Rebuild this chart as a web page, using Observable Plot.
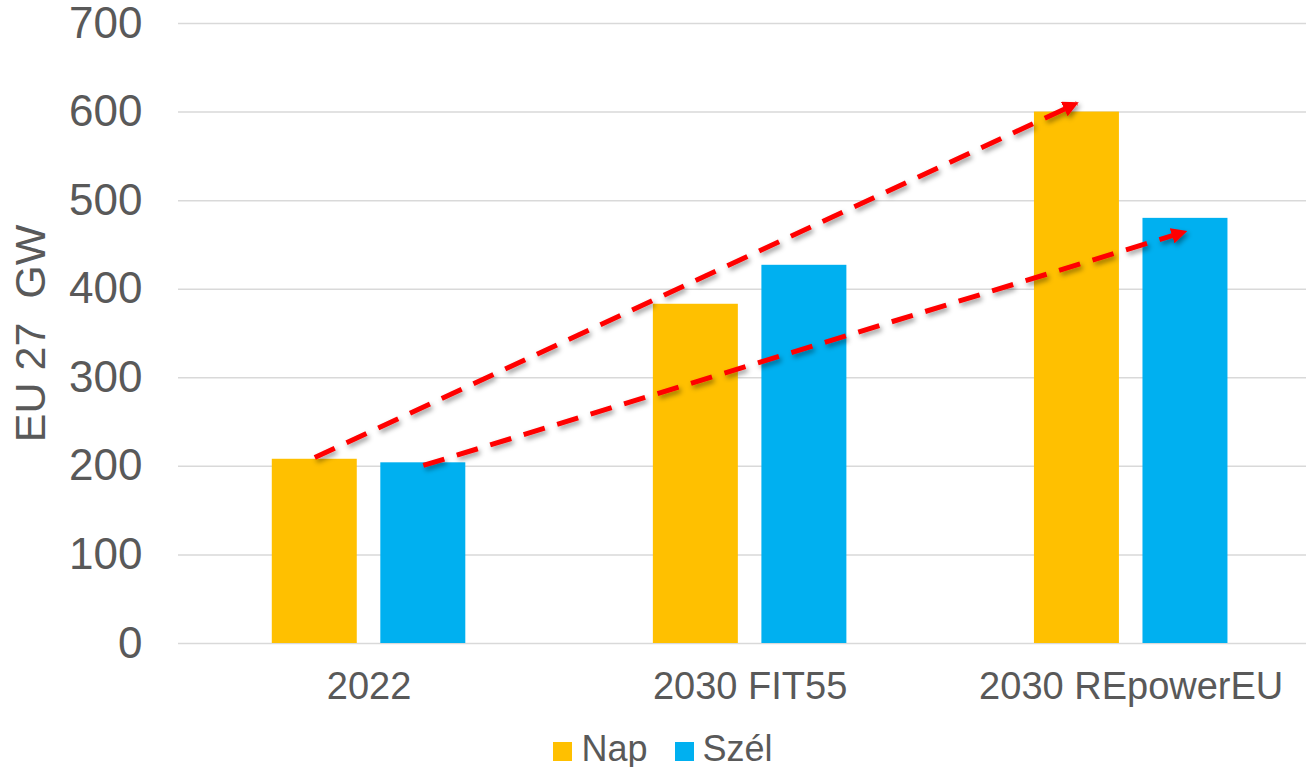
<!DOCTYPE html>
<html>
<head>
<meta charset="utf-8">
<script src="https://cdn.jsdelivr.net/npm/d3@7"></script>
<script src="https://cdn.jsdelivr.net/npm/@observablehq/plot@0.6"></script>
<style>
  html, body { margin: 0; padding: 0; background: #fff; overflow: hidden; }
  body { font-family: "Liberation Sans", Arial, sans-serif; }
  #chart svg { display: block; }
  svg text { white-space: pre; }
  #legend { display: flex; justify-content: center; align-items: center; height: 36px; margin-top: 13px;
            padding-left: 20px; font-size: 36px; line-height: 36px; color: #595959; }
  #legend .item { display: flex; align-items: center; }
  #legend .item + .item { margin-left: 27px; }
  #legend .sw { width: 19px; height: 19px; display: inline-block; margin-right: 9px; position: relative; top: 2px; }
</style>
</head>
<body>
<div id="chart"></div>
<div id="legend"></div>
<script>
// ---- data ----
const categories = ["2022", "2030 FIT55", "2030 REpowerEU"];
const seriesNames = ["Nap", "Szél"];
const napValues = [208, 383, 600];
const szelValues = [204, 427, 480];
const seriesColors = ["#FFC000", "#00B0F0"];
const yTicks = [0, 100, 200, 300, 400, 500, 600, 700];
const yLabel = "EU 27  GW";
// arrows: from a bar of the first category to the same series in the last
const arrowSeries = ["Nap", "Szél"];
const arrowFrom = ["2022", "2022"];
const arrowTo = ["2030 REpowerEU", "2030 REpowerEU"];
const arrowStartValues = [210, 201];
const arrowEndValues = [610, 465];

// ---- layout helpers (in x-scale units: one unit per category group) ----
const seriesOffset = {"Nap": -0.1424, "Szél": 0.1424};
const halfBar = 0.1115;
const textColor = "#595959";

const rows = [];
categories.forEach((c, i) => {
  rows.push({cat: c, series: "Nap", value: napValues[i], idx: i});
  rows.push({cat: c, series: "Szél", value: szelValues[i], idx: i});
});
const arrows = arrowSeries.map((s, k) => ({
  x1: categories.indexOf(arrowFrom[k]) + seriesOffset[s],
  y1: arrowStartValues[k],
  x2: categories.indexOf(arrowTo[k]) + seriesOffset[s],
  y2: arrowEndValues[k]
}));

const hasAxisMarks = typeof Plot.axisY === "function";
const fmtX = i => categories[i] ?? "";

const marks = [
  Plot.ruleY(yTicks, {stroke: "#d9d9d9", strokeWidth: 1.5}),
  Plot.rect(rows, {
    x1: d => d.idx + seriesOffset[d.series] - halfBar,
    x2: d => d.idx + seriesOffset[d.series] + halfBar,
    y1: 0,
    y2: "value",
    fill: "series"
  }),
  Plot.link(arrows, {x1: "x1", y1: "y1", x2: "x2", y2: "y2",
    stroke: "#FF0000", strokeWidth: 5, strokeDasharray: "22,13"}),
  Plot.text([yLabel], {frameAnchor: "left", dx: -147, rotate: -90, fontSize: 43,
    fill: textColor, textAnchor: "middle", text: d => d})
];
if (hasAxisMarks) {
  marks.push(
    Plot.axisY({ticks: yTicks, tickSize: 0, tickPadding: 36, fontSize: 44, label: null, fill: textColor}),
    Plot.axisX({ticks: [0, 1, 2], tickFormat: fmtX, tickSize: 0, tickPadding: 29, fontSize: 38, label: null, fill: textColor})
  );
}

const chart = Plot.plot({
  width: 1306,
  height: 718,
  marginLeft: 178,
  marginRight: 0,
  marginTop: 23,
  marginBottom: 75,
  style: {fontFamily: '"Liberation Sans", Arial, sans-serif', color: textColor, background: "#fff"},
  x: hasAxisMarks
    ? {type: "linear", domain: [-0.5, 2.46]}
    : {type: "linear", domain: [-0.5, 2.46], ticks: [0, 1, 2], tickFormat: fmtX, tickSize: 0, tickPadding: 29, label: null},
  y: hasAxisMarks
    ? {domain: [0, 700]}
    : {domain: [0, 700], ticks: yTicks, tickSize: 0, tickPadding: 36, label: null},
  color: {domain: seriesNames, range: seriesColors},
  marks
});
document.getElementById("chart").appendChild(chart);

// ---- decorations: filled arrowheads and drop shadow ----
const svg = d3.select(chart);
const defs = svg.insert("defs", ":first-child");
const filt = defs.append("filter").attr("id", "arrowShadow")
  .attr("x", "-10%").attr("y", "-30%").attr("width", "120%").attr("height", "160%");
filt.append("feDropShadow").attr("dx", 2).attr("dy", 3).attr("stdDeviation", 2.5)
  .attr("flood-color", "#000").attr("flood-opacity", 0.4);
const mk = defs.append("marker").attr("id", "arrowHead")
  .attr("markerUnits", "userSpaceOnUse").attr("viewBox", "0 0 16 16")
  .attr("markerWidth", 16).attr("markerHeight", 16)
  .attr("refX", 14).attr("refY", 8).attr("orient", "auto");
mk.append("path").attr("d", "M0,0L16,8L0,16Z").attr("fill", "#FF0000");
svg.selectAll('g[aria-label="link"]').attr("filter", "url(#arrowShadow)")
  .selectAll("path").attr("marker-end", "url(#arrowHead)");

if (!hasAxisMarks) {
  svg.selectAll('g[aria-label^="y-axis"]').attr("font-size", 44).selectAll("text").attr("fill", textColor);
  svg.selectAll('g[aria-label^="x-axis"]').attr("font-size", 38).selectAll("text").attr("fill", textColor);
}

// ---- legend ----
const legend = d3.select("#legend");
seriesNames.forEach((s, i) => {
  const it = legend.append("div").attr("class", "item");
  it.append("span").attr("class", "sw").style("background", seriesColors[i]);
  it.append("span").text(s);
});
</script>
</body>
</html>
